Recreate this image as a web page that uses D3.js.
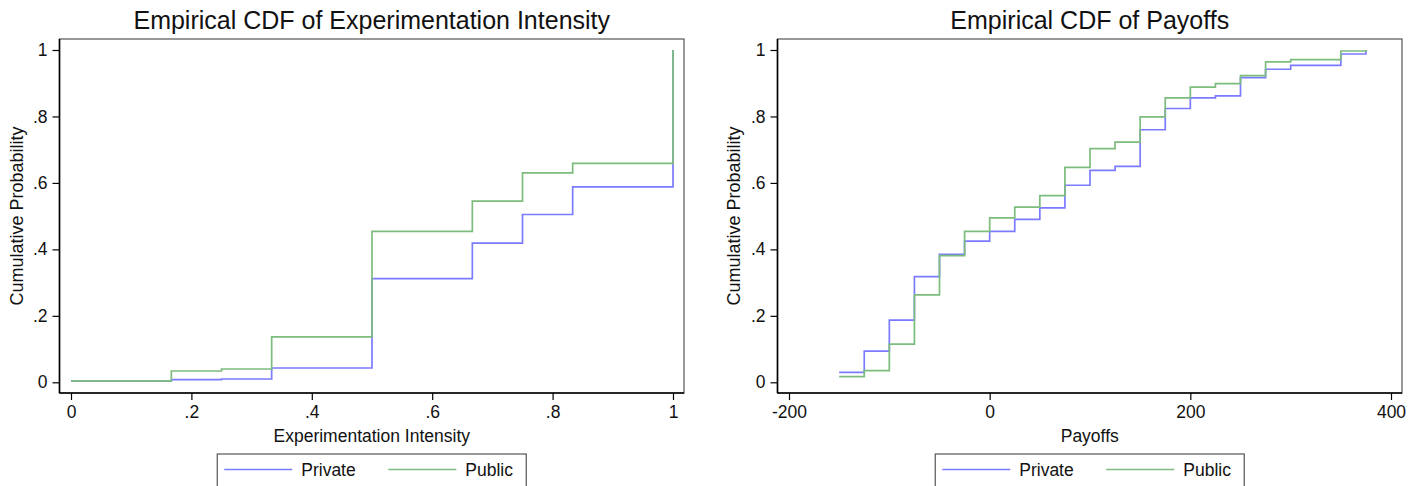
<!DOCTYPE html>
<html>
<head>
<meta charset="utf-8">
<script src="https://cdn.jsdelivr.net/npm/d3@7"></script>
<style>
  html, body { margin: 0; padding: 0; background: #fff; }
  svg { display: block; font-family: "Liberation Sans", Arial, Helvetica, sans-serif; }
</style>
</head>
<body>
<svg id="chart" width="1424" height="486"></svg>
<script>
// ---- Data ----
const seriesNames = ["Private", "Public"];

// Left panel: Experimentation Intensity
const intensityX = [0, 1/6, 0.25, 1/3, 0.5, 2/3, 0.75, 5/6, 1];
const intensityPrivate = [0.004, 0.008, 0.010, 0.043, 0.312, 0.419, 0.505, 0.588, 1.0];
const intensityPublic  = [0.004, 0.034, 0.040, 0.137, 0.454, 0.545, 0.630, 0.659, 1.0];
const intensityTicks = [0, 0.2, 0.4, 0.6, 0.8, 1];

// Right panel: Payoffs
const payoffX = [-150, -125, -100, -75, -50, -25, 0, 25, 50, 75, 100, 125, 150, 175, 200, 225, 250, 275, 300, 350, 375];
const payoffPrivate = [0.030, 0.094, 0.187, 0.318, 0.385, 0.425, 0.454, 0.490, 0.525, 0.593, 0.638, 0.650, 0.760, 0.824, 0.856, 0.862, 0.917, 0.942, 0.954, 0.988, 1.0];
const payoffPublic  = [0.017, 0.035, 0.115, 0.263, 0.381, 0.454, 0.495, 0.527, 0.562, 0.647, 0.703, 0.723, 0.799, 0.856, 0.888, 0.899, 0.923, 0.964, 0.971, 0.997, 1.0];
const payoffTicks = [-200, 0, 200, 400];

const probTicks = [0, 0.2, 0.4, 0.6, 0.8, 1];

// ---- Styles ----
const colors = { Private: "#7b7bff", Public: "#7cbc7c" };
const FONT = 17.5;

const svg = d3.select("#chart");

function stripZero(v) {
  if (v === 0) return "0";
  if (v === 1) return "1";
  let s = String(+v.toFixed(2));
  return s.replace(/^0\./, ".").replace(/^-0\./, "-.");
}

function panel(cfg) {
  const g = svg.append("g");
  const box = cfg.box; // plot region outline
  const x = d3.scaleLinear().domain(cfg.xDomain).range(cfg.xRange);
  const y = d3.scaleLinear().domain([0, 1]).range([382.3, 50]);

  // title
  g.append("text")
    .attr("x", (box.l + box.r) / 2).attr("y", 29)
    .attr("text-anchor", "middle")
    .attr("font-size", 25)
    .attr("fill", "#111")
    .text(cfg.title);

  // plot region outline
  g.append("rect")
    .attr("x", box.l).attr("y", box.t)
    .attr("width", box.r - box.l).attr("height", box.b - box.t)
    .attr("fill", "none").attr("stroke", "#555").attr("stroke-width", 1.2);

  // y axis
  const yAxis = d3.axisLeft(y).tickValues(probTicks).tickFormat(stripZero)
    .tickSize(7).tickPadding(5);
  const ya = g.append("g").attr("transform", `translate(${box.l},0)`).call(yAxis);
  ya.select(".domain").attr("d", `M0,${box.t}V${box.b}`).attr("stroke", "#000").attr("stroke-width", 1.6);
  ya.selectAll(".tick line").attr("stroke", "#000").attr("stroke-width", 1.2);
  ya.selectAll(".tick text").attr("font-size", FONT).attr("fill", "#111")
    .attr("font-family", "Liberation Sans, Arial, sans-serif");

  // x axis
  const xAxis = d3.axisBottom(x).tickValues(cfg.xTicks).tickFormat(cfg.xFormat)
    .tickSize(7).tickPadding(6);
  const xa = g.append("g").attr("transform", `translate(0,${box.b})`).call(xAxis);
  xa.select(".domain").attr("d", `M${box.l},0H${box.r}`).attr("stroke", "#000").attr("stroke-width", 1.6);
  xa.selectAll(".tick line").attr("stroke", "#000").attr("stroke-width", 1.2);
  xa.selectAll(".tick text").attr("font-size", FONT).attr("fill", "#111")
    .attr("font-family", "Liberation Sans, Arial, sans-serif");

  // axis titles
  g.append("text")
    .attr("x", (box.l + box.r) / 2).attr("y", 442)
    .attr("text-anchor", "middle").attr("font-size", FONT).attr("fill", "#111")
    .text(cfg.xTitle);
  g.append("text")
    .attr("transform", `translate(${cfg.yTitleX},${(box.t + box.b) / 2}) rotate(-90)`)
    .attr("text-anchor", "middle").attr("dy", "0.35em")
    .attr("font-size", 18).attr("fill", "#111")
    .text("Cumulative Probability");

  // lines
  const line = d3.line().x(d => x(d[0])).y(d => y(d[1])).curve(d3.curveStepAfter);
  cfg.series.forEach(s => {
    const pts = cfg.xs.map((v, i) => [v, s.values[i]]);
    g.append("path").datum(pts)
      .attr("d", line)
      .attr("fill", "none")
      .attr("stroke", colors[s.name])
      .attr("stroke-width", 1.7);
  });

  // legend
  const cx = (box.l + box.r) / 2;
  const lw = 309;
  const lx = cx - lw / 2;
  const leg = g.append("g");
  leg.append("rect")
    .attr("x", lx).attr("y", 454).attr("width", lw).attr("height", 36)
    .attr("fill", "#fff").attr("stroke", "#555").attr("stroke-width", 1.2);
  const itemOffsets = [7, 171];
  seriesNames.forEach((name, i) => {
    const ox = lx + itemOffsets[i];
    leg.append("line")
      .attr("x1", ox).attr("x2", ox + 68)
      .attr("y1", 469.5).attr("y2", 469.5)
      .attr("stroke", colors[name]).attr("stroke-width", 1.7);
    leg.append("text")
      .attr("x", ox + 77).attr("y", 476)
      .attr("font-size", FONT).attr("fill", "#111")
      .text(name);
  });
}

panel({
  title: "Empirical CDF of Experimentation Intensity",
  box: { l: 59.5, r: 684, t: 39, b: 393 },
  xDomain: [0, 1], xRange: [71, 673],
  xTicks: intensityTicks, xFormat: stripZero,
  xTitle: "Experimentation Intensity",
  yTitleX: 17,
  xs: intensityX,
  series: [
    { name: "Private", values: intensityPrivate },
    { name: "Public", values: intensityPublic }
  ]
});

panel({
  title: "Empirical CDF of Payoffs",
  box: { l: 777.5, r: 1402, t: 39, b: 393 },
  xDomain: [-200, 400], xRange: [789, 1391],
  xTicks: payoffTicks, xFormat: d => String(d),
  xTitle: "Payoffs",
  yTitleX: 734,
  xs: payoffX,
  series: [
    { name: "Private", values: payoffPrivate },
    { name: "Public", values: payoffPublic }
  ]
});
</script>
</body>
</html>
